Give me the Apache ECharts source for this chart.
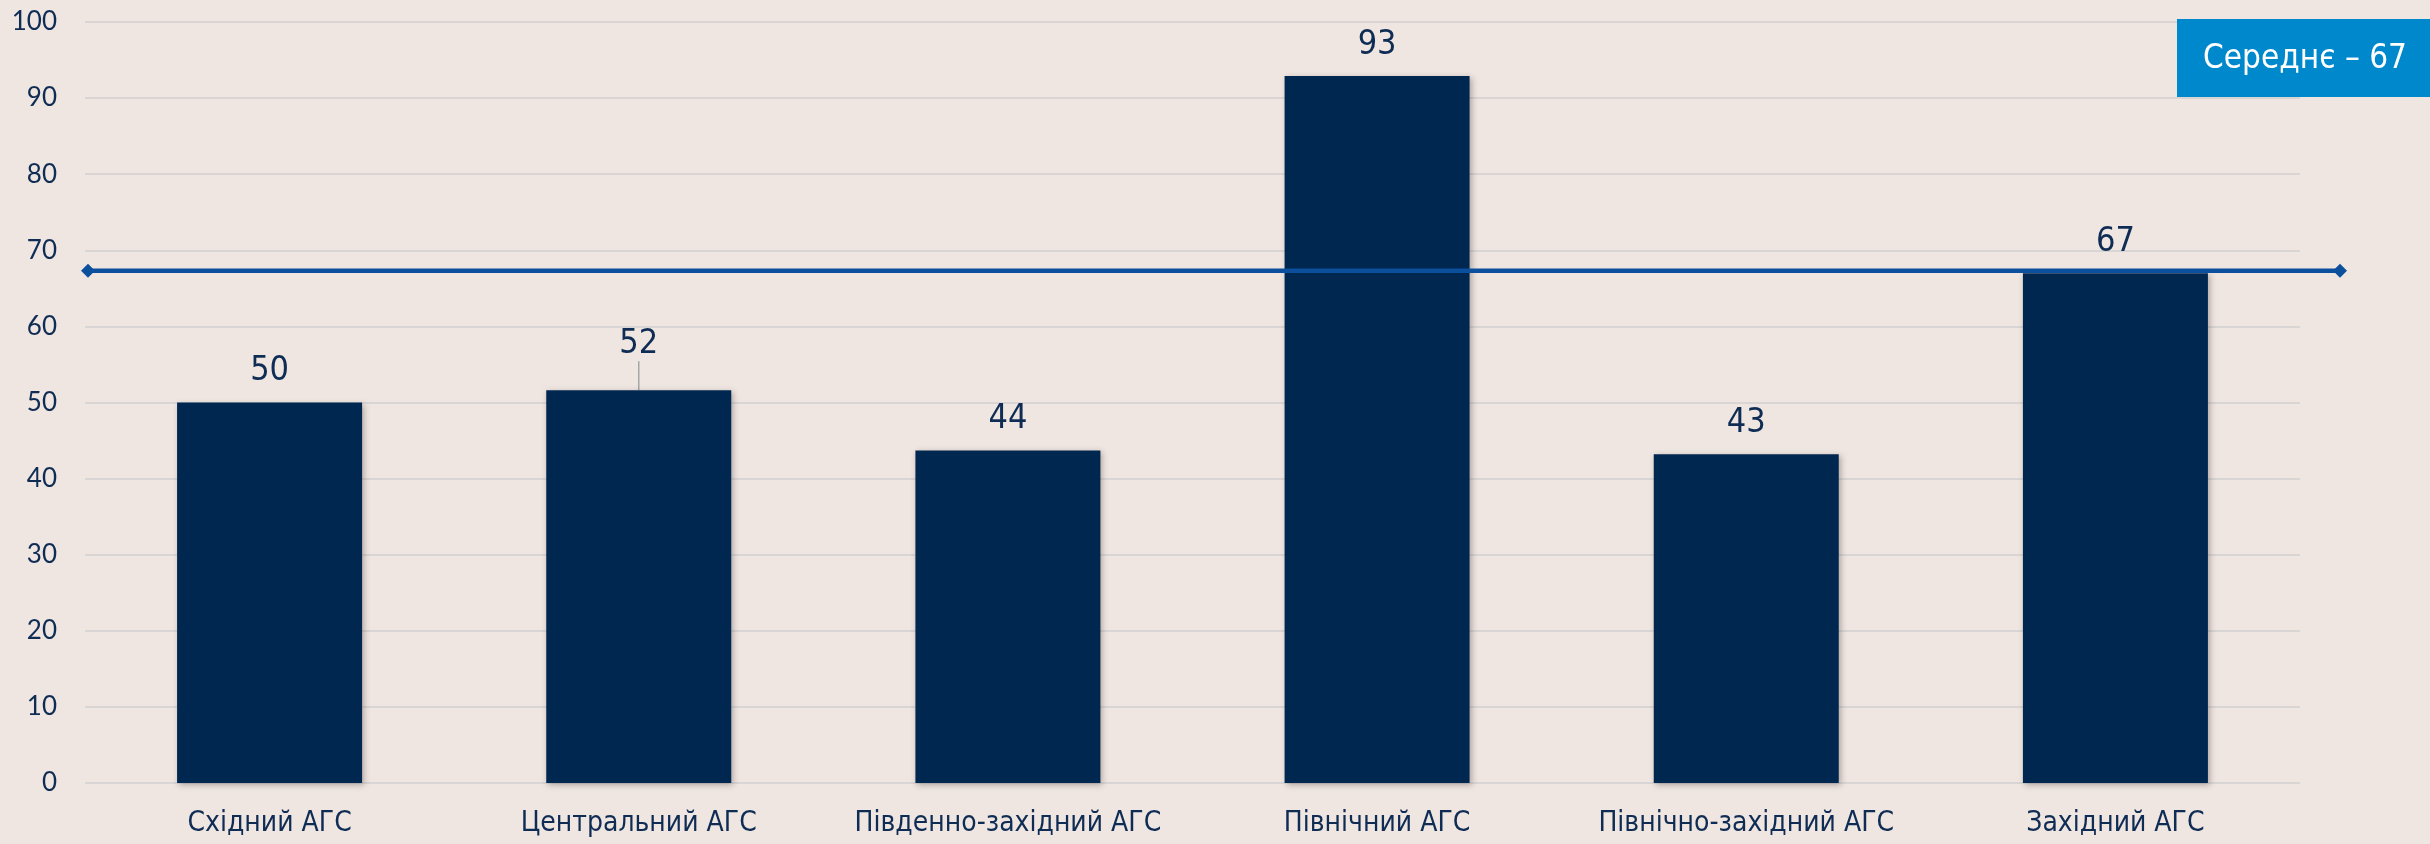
<!DOCTYPE html>
<html>
<head>
<meta charset="utf-8">
<style>
html,body{margin:0;padding:0;background:#efe6e1;}
#chart{width:2430px;height:844px;}
</style>
<script src="https://cdn.jsdelivr.net/npm/echarts@6/dist/echarts.min.js"></script>
</head>
<body>
<div id="chart"></div>
<script>
var categories = ['Східний АГС','Центральний АГС','Південно-західний АГС','Північний АГС','Північно-західний АГС','Західний АГС'];
var values = [50, 51.6, 43.7, 92.9, 43.2, 67.0];
var averageValue = 67.3;
var averageLabel = 'Середнє – 67';
var yTicks = [0,10,20,30,40,50,60,70,80,90,100];

var navy = '#00274f';
var textColor = '#0f2c54';
var narrow = '"DejaVu Sans Condensed","DejaVu Sans",sans-serif';

var barData = values.map(function(v, i){
  return i === 1 ? {value: v, labelLine: {show: true}} : {value: v};
});

var chart = echarts.init(document.getElementById('chart'), null, {renderer:'canvas'});
chart.setOption({
  backgroundColor: '#efe6e1',
  animation: false,
  grid: [
    {left: 85, right: 130, top: 22, bottom: 61},
    {left: 88, right: 90, top: 22, bottom: 61}
  ],
  xAxis: [
    {
      type: 'category', data: categories, gridIndex: 0,
      axisLine: {show: false}, axisTick: {show: false},
      axisLabel: {color: textColor, fontFamily: narrow, fontSize: 28, margin: 27, interval: 0}
    },
    {type: 'value', gridIndex: 1, min: 0, max: 1, show: false}
  ],
  yAxis: [
    {
      type: 'value', gridIndex: 0, min: yTicks[0], max: yTicks[yTicks.length-1], interval: 10,
      axisLine: {show: false}, axisTick: {show: false},
      splitLine: {lineStyle: {color: '#d8d5d4', width: 2}},
      axisLabel: {color: textColor, fontFamily: 'Lato, sans-serif', fontSize: 26, margin: 28}
    },
    {type: 'value', gridIndex: 1, min: 0, max: 100, show: false}
  ],
  series: [
    {
      type: 'bar', xAxisIndex: 0, yAxisIndex: 0,
      data: barData, barWidth: 185,
      itemStyle: {color: navy, shadowColor: 'rgba(60,40,40,0.35)', shadowBlur: 6, shadowOffsetX: 2, shadowOffsetY: 2},
      label: {
        show: true, position: 'top', distance: 14,
        color: textColor, fontFamily: narrow, fontSize: 34,
        formatter: function(p){ return Math.round(p.value); }
      },
      labelLine: {show: false, lineStyle: {color: '#a6a6a6', width: 1.5}},
      labelLayout: function(p){ return p.dataIndex === 1 ? {dy: -15} : {}; }
    },
    {
      type: 'line', xAxisIndex: 1, yAxisIndex: 1,
      data: [[0, averageValue],[1, averageValue]],
      symbol: 'diamond', symbolSize: 14,
      lineStyle: {color: '#0b4f9d', width: 4.5},
      itemStyle: {color: '#0b4f9d'},
      z: 5
    }
  ],
  graphic: [
    {
      type: 'group', right: 0, top: 19, z: 100,
      children: [
        {type: 'rect', z: 100, shape: {x: 0, y: 0, width: 253, height: 78}, style: {fill: '#0088cd'}},
        {type: 'text', z: 101, x: 128, y: 40, style: {text: averageLabel, fill: '#ffffff', font: '33px ' + narrow, align: 'center', verticalAlign: 'middle'}}
      ]
    }
  ]
});
</script>
</body>
</html>
